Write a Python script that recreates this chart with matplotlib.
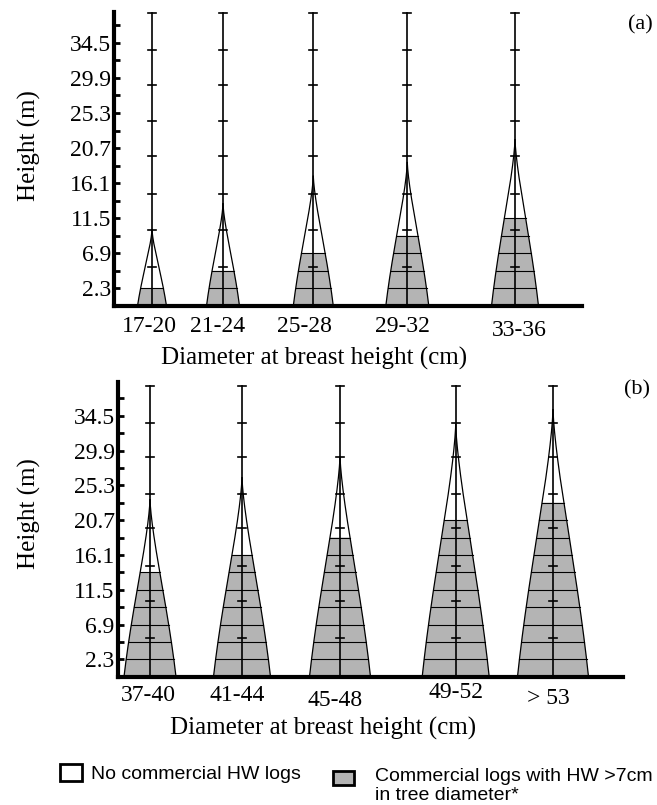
import numpy as np
import matplotlib
matplotlib.use('Agg')
import matplotlib.pyplot as plt
from matplotlib.patches import Rectangle

# Diameter classes (cm) for the two groups of stems
classes_a = ['17-20', '21-24', '25-28', '29-32', '33-36']
classes_b = ['37-40', '41-44', '45-48', '49-52', '> 53']

# Mean total tree height per class (m)
height_a = [10.0, 13.4, 17.0, 18.8, 21.8]
height_b = [23.4, 26.3, 29.1, 33.3, 35.3]

# Number of 2.3 m commercial logs with HW > 7 cm
logs_a = [1, 2, 3, 4, 5]
logs_b = [6, 7, 8, 9, 10]

# Stem width at the base (plot units)
base_a = [29, 33, 40, 43, 47]
base_b = [52, 57, 61, 67, 71]

log_length = 2.3
y_labels = [2.3, 6.9, 11.5, 16.1, 20.7, 25.3, 29.9, 34.5]
pole_marks = [5.1, 10.0, 14.7, 19.6, 24.2, 29.0, 33.6]
pole_top = 38.4

# layout (pixels of the 657x805 canvas)
W, H = 657, 805
GRAY = '#b4b4b4'
SERIF = 'Liberation Serif'
SANS = 'Liberation Sans'

panels = [
    dict(box=(113.7, 11.7, 582.0, 306.0), ymax=38.57,
         centers=[38.3, 109.3, 199.6, 293.6, 401.3],
         label_dx=[-3, -5, -9, -4.5, 4], label_y=[327, 327, 327, 327, 330],
         classes=classes_a, heights=height_a, logs=logs_a, bases=base_a,
         xlabel_xy=(314.5, 358), ylabel_xy=(29, 146), tag='(a)', tag_xy=(640, 25)),
    dict(box=(117.5, 381.7, 623.0, 676.7), ymax=39.0,
         centers=[32.5, 124.5, 222.5, 338.2, 435.5],
         label_dx=[-2, -5, -5, 0, -5], label_y=[695, 695, 700, 692, 698],
         classes=classes_b, heights=height_b, logs=logs_b, bases=base_b,
         xlabel_xy=(323.5, 728), ylabel_xy=(29, 514), tag='(b)', tag_xy=(637, 390)),
]


def fx(px):
    return px / W


def fy(py):
    return 1 - py / H


def half_width(h, width, height):
    # stem taper: full near the butt, thinning faster toward the tip
    t = np.clip(np.asarray(h) / height, 0, 1)
    return width / 2 * (1 - t) ** (0.8 + 0.5 * t)


def draw_stem(ax, x, width, height, n_logs):
    h = np.linspace(0, height, 300)
    half = half_width(h, width, height)
    ax.fill_betweenx(h, x - half, x + half, facecolor='white',
                     edgecolor='none', zorder=1)

    # commercial part of the stem
    top = n_logs * log_length
    hs = np.append(h[h < top], top)
    hs_half = half_width(hs, width, height)
    ax.fill_betweenx(hs, x - hs_half, x + hs_half, facecolor=GRAY,
                     edgecolor='none', zorder=2)
    for k in range(1, n_logs + 1):
        yk = k * log_length
        wk = half_width(yk, width, height)
        ax.plot([x - wk, x + wk], [yk, yk], color='black', lw=0.8, zorder=3)

    ax.plot(x - half, h, color='black', lw=0.9, zorder=4)
    ax.plot(x + half, h, color='black', lw=0.9, zorder=4)

    # measuring pole
    ax.plot([x, x], [0, pole_top], color='black', lw=1.2, zorder=5)
    for yk in pole_marks + [pole_top]:
        ax.plot([x - 4, x + 4], [yk, yk], color='black', lw=1.2, zorder=5)


plt.rcParams['font.family'] = SERIF
fig = plt.figure(figsize=(W / 100, H / 100), dpi=100)

yticks = [round(k * log_length, 1) for k in range(1, 17)]
ytick_text = [f'{t:.1f}' if t in y_labels else '' for t in yticks]

for p in panels:
    x0, y0, x1, y1 = p['box']
    ax = fig.add_axes([fx(x0), fy(y1), (x1 - x0) / W, (y1 - y0) / H])
    ax.set_xlim(0, x1 - x0)
    ax.set_ylim(0, p['ymax'])

    for c, b, ht, n in zip(p['centers'], p['bases'], p['heights'], p['logs']):
        draw_stem(ax, c, b, ht, n)

    for s in ['top', 'right']:
        ax.spines[s].set_visible(False)
    for s in ['left', 'bottom']:
        ax.spines[s].set_linewidth(3)
        ax.spines[s].set_capstyle('projecting')

    ax.set_xticks([])
    ax.set_yticks(yticks)
    ax.set_yticklabels(ytick_text)
    ax.tick_params(axis='y', direction='in', length=4, width=2, pad=2,
                   labelsize=17)

    # class labels under each stem
    for c, dx, ly, name in zip(p['centers'], p['label_dx'], p['label_y'],
                               p['classes']):
        ax.text(c + dx, (y1 - ly) / (y1 - y0), name, fontsize=17,
                ha='center', va='center', transform=ax.get_xaxis_transform())

    fig.text(fx(p['xlabel_xy'][0]), fy(p['xlabel_xy'][1]),
             'Diameter at breast height (cm)', fontsize=18,
             ha='center', va='center')
    fig.text(fx(p['ylabel_xy'][0]), fy(p['ylabel_xy'][1]), 'Height (m)',
             fontsize=18, rotation=90, ha='center', va='center')
    fig.text(fx(p['tag_xy'][0]), fy(p['tag_xy'][1]), p['tag'], fontsize=16,
             ha='center', va='center')

# legend
fig.patches.append(Rectangle((fx(60), fy(781)), 22 / W, 17 / H,
                             transform=fig.transFigure, facecolor='white',
                             edgecolor='black', lw=2))
fig.text(fx(91), fy(774), 'No commercial HW logs', family=SANS, fontsize=14,
         ha='left', va='center')
fig.patches.append(Rectangle((fx(333), fy(785)), 21 / W, 14 / H,
                             transform=fig.transFigure, facecolor=GRAY,
                             edgecolor='black', lw=2))
fig.text(fx(375), fy(776), 'Commercial logs with HW >7cm', family=SANS,
         fontsize=14, ha='left', va='center')
fig.text(fx(375), fy(795), 'in tree diameter*', family=SANS, fontsize=14,
         ha='left', va='center')

fig.savefig('out.png', dpi=100)
